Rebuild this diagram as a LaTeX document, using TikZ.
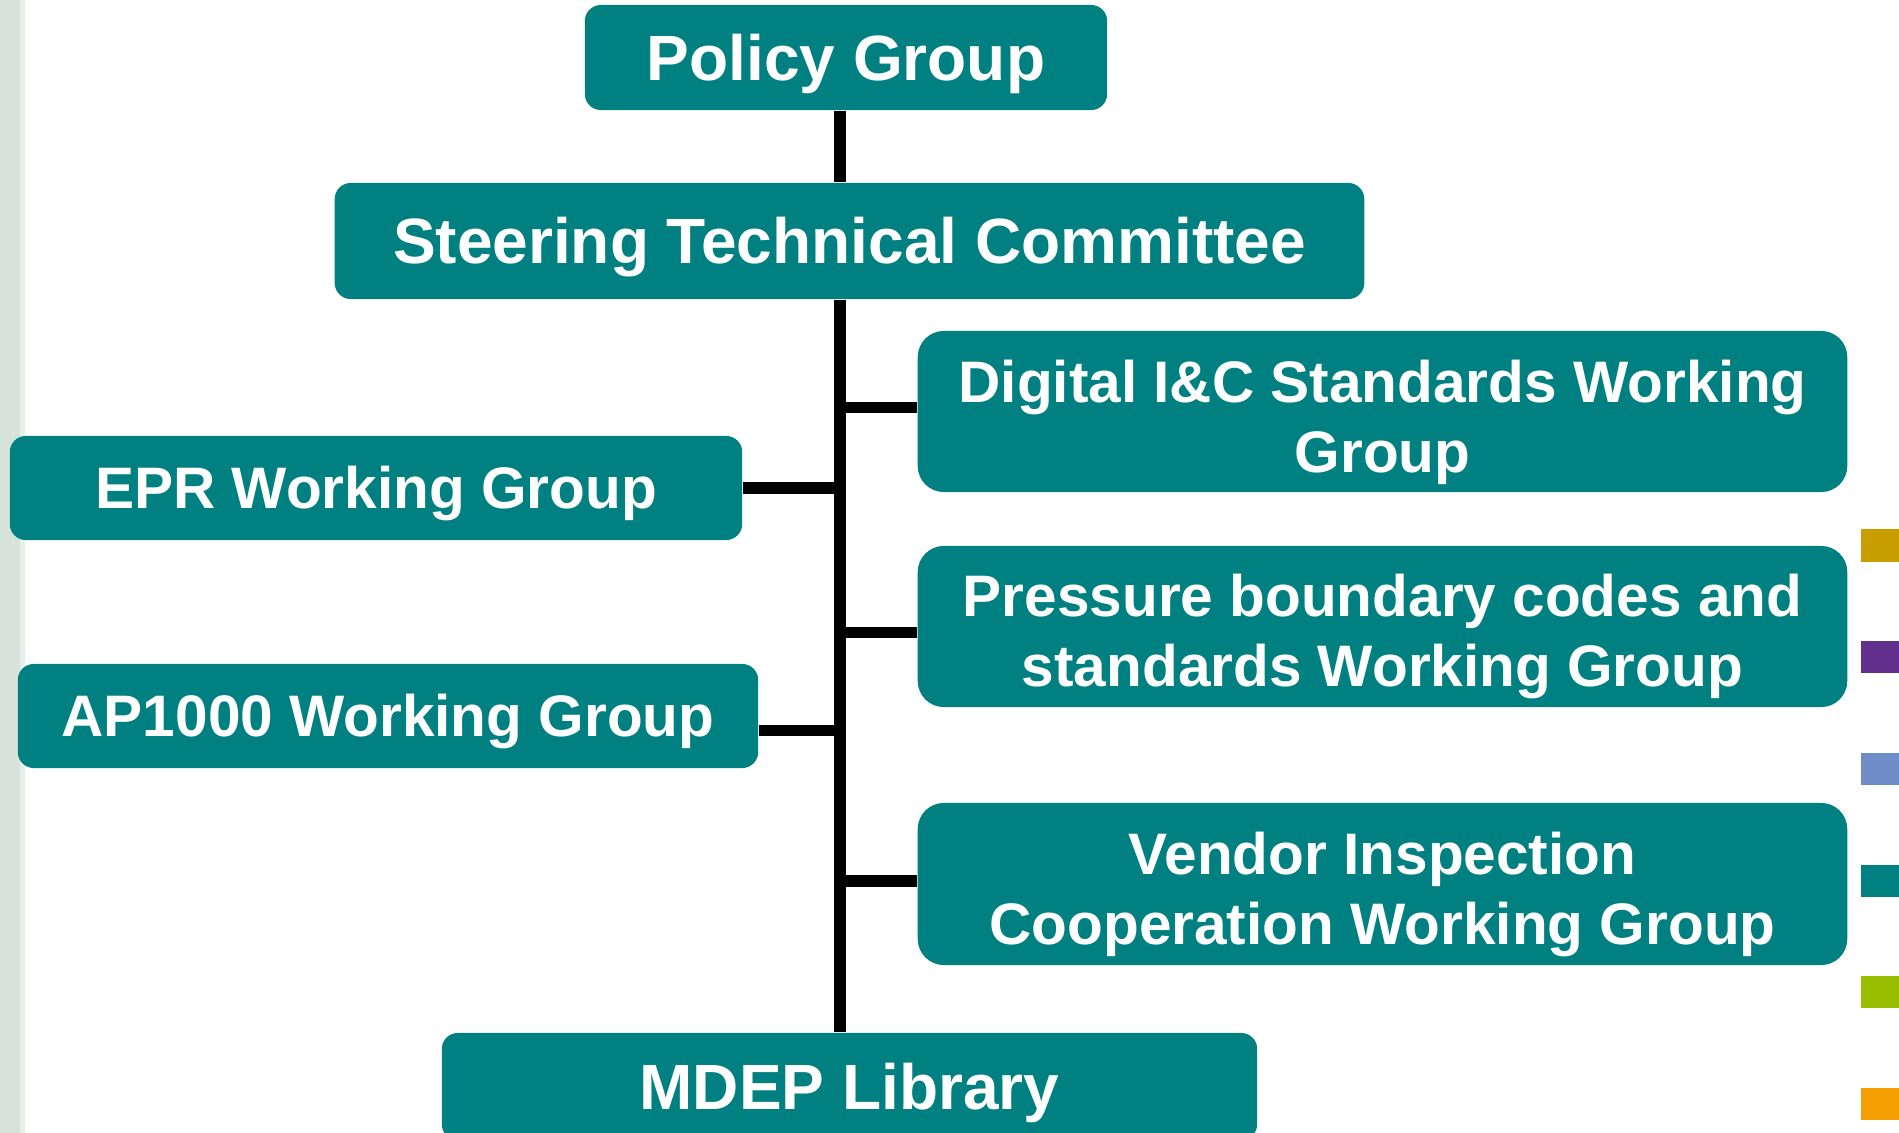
\documentclass[tikz,border=0pt]{standalone}
\usepackage{fontspec}
\setmainfont{Liberation Sans}
\usepackage{tikz}

\definecolor{mdepteal}{RGB}{0,128,128}
\definecolor{sidebar}{RGB}{214,227,219}
\definecolor{sidebarlight}{RGB}{232,239,235}
\definecolor{keygold}{RGB}{200,158,0}
\definecolor{keypurple}{RGB}{96,48,140}
\definecolor{keyblue}{RGB}{110,140,200}
\definecolor{keygreen}{RGB}{153,192,0}
\definecolor{keyorange}{RGB}{245,160,0}

\tikzset{
    groupbox/.style={fill=mdepteal, text=white, inner sep=0pt, align=center,
        rounded corners=0.16cm, font=\fontsize{16.65}{19.9}\selectfont\bfseries},
    onelinebox/.style={groupbox, text height=11.9pt, text depth=0pt},
    topbox/.style={groupbox, font=\fontsize{18.2}{21.8}\selectfont\bfseries,
        text height=13pt, text depth=0pt},
    tallbox/.style={groupbox, rounded corners=0.26cm,
        minimum width=9.29cm, minimum height=1.61cm},
    wire/.style={line width=0.12cm},
    branch/.style={line width=0.115cm}
}

\begin{document}
\begin{tikzpicture}[x=0.01cm, y=-0.01cm]
                    \clip (0, 0) rectangle (1899, 1133);
                    \fill[white] (0, 0) rectangle (1899, 1133);
                    \fill[sidebar] (0, 0) rectangle (20, 1133);
                    \fill[sidebarlight] (20, 0) rectangle (25, 1133);

                    \node[topbox, minimum width=5.22cm, minimum height=1.05cm]
                        (policy) at (846, 57.5) {Policy Group};
                    \node[topbox, minimum width=10.29cm, minimum height=1.16cm]
                        (steering) at (849.5, 241) {Steering Technical Committee};
                    \node[topbox, minimum width=8.15cm, minimum height=1.07cm]
                        (library) at (849.5, 1086.5) {MDEP Library};

                    \node[onelinebox, minimum width=7.32cm, minimum height=1.04cm]
                        (epr) at (376, 488) {EPR Working Group};
                    \node[onelinebox, minimum width=7.40cm, minimum height=1.04cm]
                        (ap1000) at (388, 716) {AP1000 Working Group};

                    \node[tallbox] (digic) at (1382.5, 411.5)
                        {\rule{0pt}{18pt}Digital I\&C Standards Working\\Group};
                    \node[tallbox] (pressure) at (1382.5, 626.5)
                        {\rule{0pt}{18pt}Pressure boundary codes and\\standards Working Group};
                    \node[tallbox, minimum height=1.62cm] (vendor) at (1382.5, 884)
                        {\rule{0pt}{18pt}Vendor Inspection\\Cooperation Working Group};

                    \coordinate (spine) at (840, 0);
                    \draw[wire]
                        (spine |- policy.south) -- (spine |- steering.north)
                        (spine |- steering.south) -- (spine |- library.north)
                    ;
                    \draw[branch]
                        ([yshift=0.04cm]digic.west) -- ++(-78, 0)
                        ([yshift=-0.06cm]pressure.west) -- ++(-78, 0)
                        ([yshift=0.03cm]vendor.west) -- ++(-78, 0)
                        (epr.east) -- ++(96, 0)
                        ([yshift=-0.145cm]ap1000.east) -- ++(82, 0)
                    ;

                    \fill[keygold] (1861, 529) rectangle (1899, 562);
                    \fill[keypurple] (1861, 641) rectangle (1899, 673);
                    \fill[keyblue] (1861, 753) rectangle (1899, 785);
                    \fill[mdepteal] (1861, 865) rectangle (1899, 897);
                    \fill[keygreen] (1861, 976) rectangle (1899, 1008);
                    \fill[keyorange] (1861, 1088) rectangle (1899, 1120);
                \end{tikzpicture}
\end{document}
